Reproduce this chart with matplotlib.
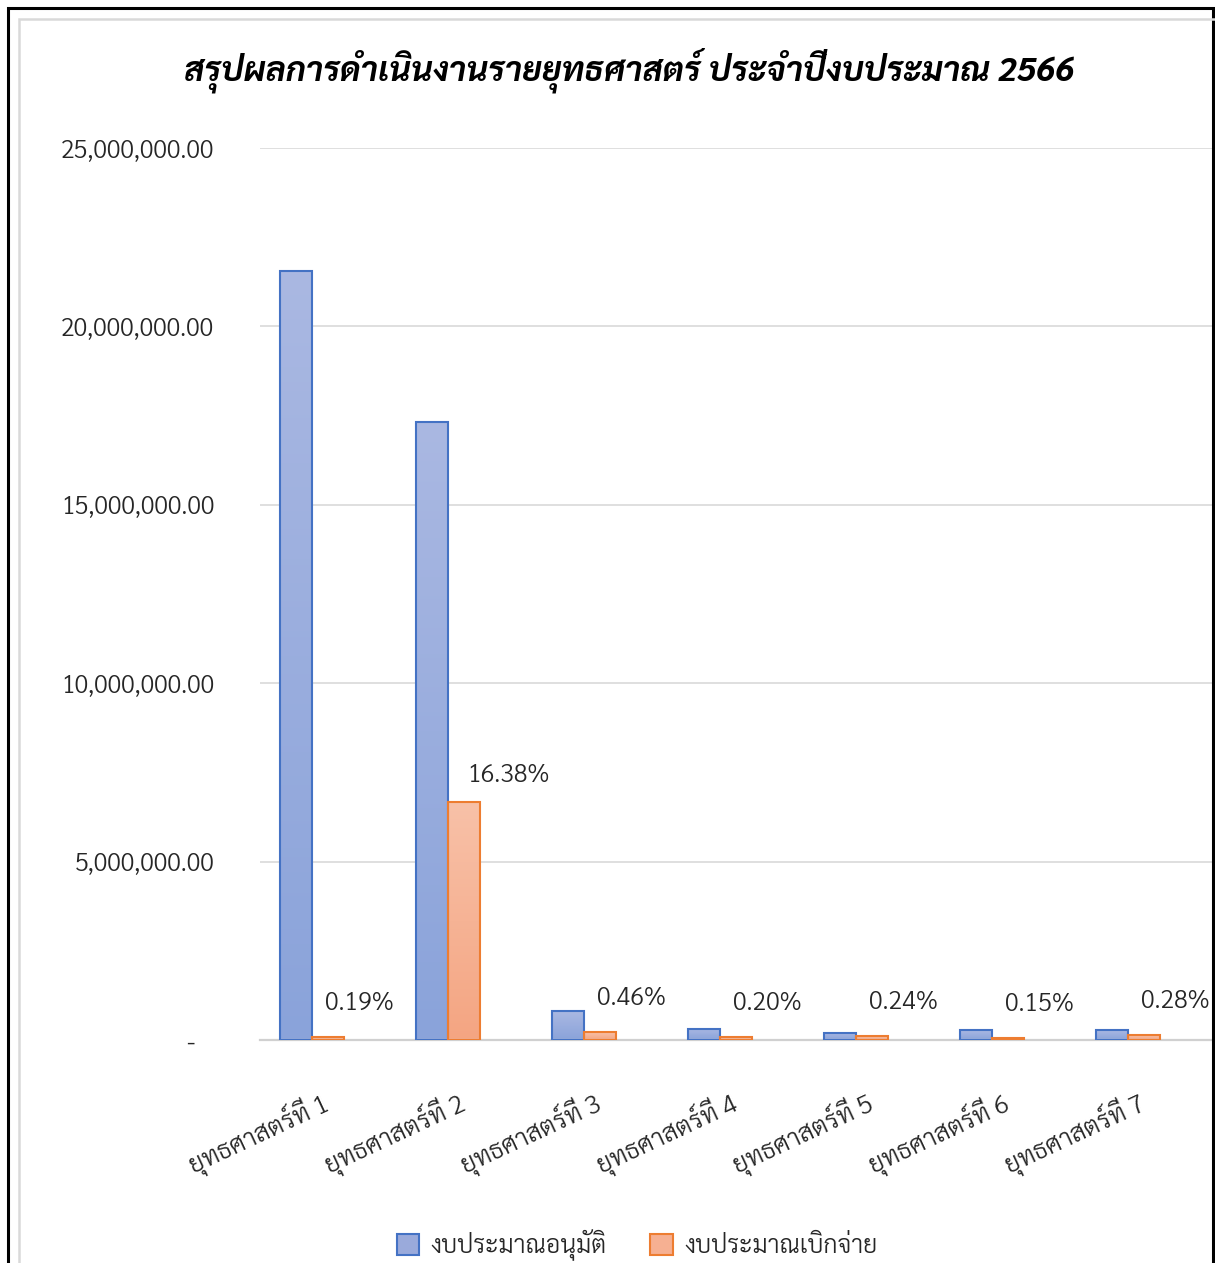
import matplotlib
matplotlib.use("Agg")
import matplotlib.pyplot as plt
import matplotlib.transforms as mtrans
import numpy as np
from matplotlib.colors import LinearSegmentedColormap
from matplotlib.patches import Rectangle
from matplotlib.ticker import FuncFormatter

# ---------------- data ----------------
categories = ["ยุทธศาสตร์ที่ 1", "ยุทธศาสตร์ที่ 2", "ยุทธศาสตร์ที่ 3", "ยุทธศาสตร์ที่ 4",
              "ยุทธศาสตร์ที่ 5", "ยุทธศาสตร์ที่ 6", "ยุทธศาสตร์ที่ 7"]
approved = [21550000, 17320000, 810000, 310000, 200000, 280000, 280000]
disbursed = [80000, 6670000, 220000, 80000, 110000, 60000, 140000]
pct_labels = ["0.19%", "16.38%", "0.46%", "0.20%", "0.24%", "0.15%", "0.28%"]
series_names = ["งบประมาณอนุมัติ", "งบประมาณเบิกจ่าย"]
title = "สรุปผลการดำเนินงานรายยุทธศาสตร์ ประจำปีงบประมาณ 2566"
y_ticks = [0, 5000000, 10000000, 15000000, 20000000, 25000000]

plt.rcParams["font.family"] = ["Sarabun", "DejaVu Sans"]
plt.rcParams["font.weight"] = 300

# ---------------- figure ----------------
W, H = 1215, 1263
fig = plt.figure(figsize=(W / 100, H / 100), dpi=100)
fig.patch.set_facecolor("white")

fig.add_artist(Rectangle((8 / W, -0.1), (1213 - 8) / W, 1.1 - 8 / H,
                         transform=fig.transFigure, fill=False, edgecolor="black", lw=2.2))
fig.add_artist(Rectangle((19 / W, -0.1), 1.2, 1.1 - 19 / H,
                         transform=fig.transFigure, fill=False, edgecolor="#D9D9D9", lw=1.8))

ax_l, ax_r = 260 / W, 1212 / W
ax_b, ax_t = 1 - 1040 / H, 1 - 148 / H
ax = fig.add_axes([ax_l, ax_b, ax_r - ax_l, ax_t - ax_b])

x = np.arange(len(categories))
bw = 0.235
blue_cmap = LinearSegmentedColormap.from_list("b", ["#8AA3DA", "#AAB8E2"])
orng_cmap = LinearSegmentedColormap.from_list("o", ["#F4A582", "#F8C1A8"])
grad = np.linspace(0, 1, 256).reshape(-1, 1)

bars1 = ax.bar(x - bw / 2, approved, bw, facecolor="none", edgecolor="#4472C4", lw=1.5, zorder=3,
               label=series_names[0])
bars2 = ax.bar(x + bw / 2, disbursed, bw, facecolor="none", edgecolor="#ED7D31", lw=1.5, zorder=3,
               label=series_names[1])

for bars, cmap in [(bars1, blue_cmap), (bars2, orng_cmap)]:
    for b in bars:
        x0, y0 = b.get_x(), b.get_y()
        w, h = b.get_width(), b.get_height()
        im = ax.imshow(grad, extent=[x0, x0 + w, y0, y0 + h], origin="lower", cmap=cmap,
                       aspect="auto", zorder=2)
        im.set_clip_path(b)

ax.set_xlim(-0.382, 6.618)
ax.set_ylim(0, 25000000)

for i, (xi, val, lab) in enumerate(zip(x, disbursed, pct_labels)):
    dx, dy = (4, 10) if i == 1 else (0, 15)
    ax.annotate(lab, (xi + bw / 2 - 0.02, val), xytext=(dx, dy), textcoords="offset points",
                ha="left", va="bottom", fontsize=18, color="#262626", zorder=5)

ax.set_yticks(y_ticks)
ax.yaxis.set_major_formatter(FuncFormatter(lambda v, p: "-   " if v == 0 else f"{v:,.2f}"))
ax.grid(axis="y", color="#D9D9D9", lw=1.2, zorder=0)
ax.set_axisbelow(True)
for s in ["top", "right", "left"]:
    ax.spines[s].set_visible(False)
ax.spines["bottom"].set_color("#D0D0D0")
ax.spines["bottom"].set_linewidth(1.6)
ax.tick_params(axis="y", length=0, pad=33, labelsize=18, labelcolor="#262626")
ax.tick_params(axis="x", length=0, pad=34, labelsize=18.5, labelcolor="#262626")
ax.set_xticks(x)
ax.set_xticklabels(categories, rotation=25, ha="right", rotation_mode="anchor")
shift = mtrans.ScaledTranslation(9 / 100, 0, fig.dpi_scale_trans)
for lbl in ax.get_xticklabels():
    lbl.set_transform(lbl.get_transform() + shift)

fig.text(629 / W, 1 - 70 / H, title, ha="center", va="center", fontsize=24.3,
         fontweight="bold", fontstyle="italic", color="black")

leg = fig.legend(loc="center", bbox_to_anchor=(637 / W, 1 - 1245 / H), ncol=2, frameon=False,
                 fontsize=18, handlelength=0.9, handleheight=0.9, columnspacing=1.76,
                 handletextpad=0.45, labelcolor="#262626")
for hnd, fc in zip(leg.legend_handles, ["#9AAADB", "#F6B092"]):
    hnd.set_facecolor(fc)

fig.savefig("out.png", dpi=100)
